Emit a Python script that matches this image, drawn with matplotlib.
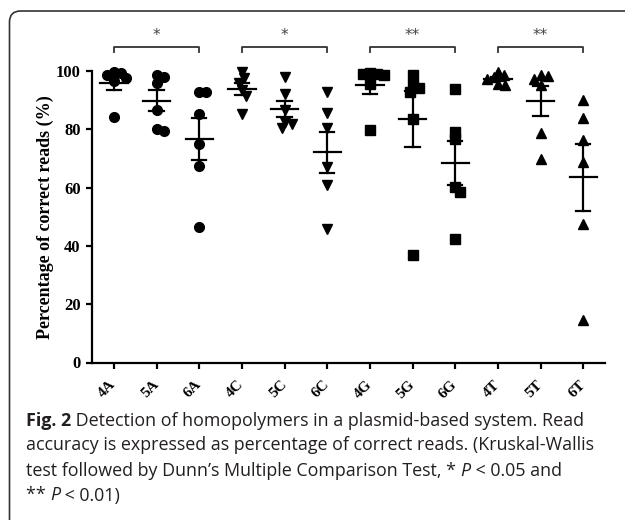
import matplotlib
matplotlib.use("Agg")
import matplotlib.pyplot as plt
import matplotlib.transforms as mtransforms
from matplotlib.patches import FancyBboxPatch
import numpy as np

# data (percentage of correct reads, n = 6 per group)
groups = ["4A", "5A", "6A", "4C", "5C", "6C", "4G", "5G", "6G", "4T", "5T", "6T"]
vals_4A = [99.5, 99.2, 98.6, 97.5, 96.5, 84.1]
vals_5A = [98.6, 98.0, 96.0, 86.6, 80.0, 79.4]
vals_6A = [92.9, 92.7, 85.2, 74.9, 67.4, 46.6]
vals_4C = [99.8, 97.5, 95.8, 93.5, 91.5, 85.1]
vals_5C = [97.8, 92.0, 86.6, 82.6, 81.8, 80.3]
vals_6C = [92.9, 85.5, 80.3, 67.2, 60.9, 45.7]
vals_4G = [99.3, 99.1, 98.8, 98.5, 95.5, 79.7]
vals_5G = [98.6, 95.2, 94.3, 92.9, 83.4, 36.9]
vals_6G = [93.8, 79.2, 76.6, 60.3, 58.6, 42.3]
vals_4T = [99.8, 98.6, 97.8, 97.3, 95.5, 95.2]
vals_5T = [98.6, 98.4, 97.4, 95.2, 78.8, 69.8]
vals_6T = [90.0, 83.8, 76.3, 68.7, 47.5, 14.6]
all_vals = [vals_4A, vals_5A, vals_6A, vals_4C, vals_5C, vals_6C,
            vals_4G, vals_5G, vals_6G, vals_4T, vals_5T, vals_6T]
markers = {"A": "o", "C": "v", "G": "s", "T": "^"}
brackets = [(0, 2, "*"), (3, 5, "*"), (6, 8, "**"), (9, 11, "**")]
yticks = [0, 20, 40, 60, 80, 100]


def swarm(values, xunit, yunit, d=7.0):
    # simple beeswarm: push colliding points sideways (pixel units)
    placed, offs = [], []
    cand = [0.0]
    for k in range(1, 100):
        cand += [k * 0.5, -k * 0.5]
    for v in values:
        y = v * yunit
        for c in cand:
            if all((c - px) ** 2 + (y - py) ** 2 >= d * d for px, py in placed):
                break
        placed.append((c, y))
        offs.append(c / xunit)
    return offs


fig = plt.figure(figsize=(6.25, 5.2), dpi=100)
ax = fig.add_axes([91.7 / 625, 1 - 362.5 / 520, (605 - 91.7) / 625, (362.5 - 71) / 520])
ax.set_xlim(-0.52, 11.51)
ax.set_ylim(0, 100)

x0, y0 = ax.transData.transform((0, 0))
x1, y1 = ax.transData.transform((1, 1))
xunit, yunit = x1 - x0, y1 - y0

for i, (g, v) in enumerate(zip(groups, all_vals)):
    v = np.array(v)
    offs = swarm(v, xunit, yunit)
    ax.plot(i + np.array(offs), v, ls="none", marker=markers[g[1]],
            ms=7 if g[1] != "s" else 6.2, color="black", clip_on=False, zorder=3)
    m = v.mean()
    sem = v.std(ddof=1) / np.sqrt(len(v))
    ax.plot([i - 0.32, i + 0.32], [m, m], color="black", lw=1.6, zorder=4, clip_on=False)
    ax.plot([i, i], [m - sem, m + sem], color="black", lw=1.6, zorder=4, clip_on=False)
    for e in (m - sem, m + sem):
        ax.plot([i - 0.17, i + 0.17], [e, e], color="black", lw=1.6, zorder=4, clip_on=False)

for a, b, s in brackets:
    ax.plot([a, a, b, b], [106.5, 108.2, 108.2, 106.5], color="#333333", lw=1.3,
            clip_on=False)
    ax.text((a + b) / 2, 112.3, s, ha="center", va="center", fontsize=11,
            color="#444444", family="DejaVu Sans")

for side in ("top", "right"):
    ax.spines[side].set_visible(False)
for side in ("left", "bottom"):
    ax.spines[side].set_linewidth(1.6)
ax.tick_params(width=1.6, length=4.5, direction="out")
ax.set_yticks(yticks)
ax.set_yticklabels([str(t) for t in yticks], fontsize=12, fontweight="bold",
                   family="Liberation Serif")
ax.set_xticks(range(len(groups)))
ax.set_xticklabels(groups, fontsize=11, fontweight="bold", family="Liberation Serif",
                   rotation=45, ha="right", va="center", rotation_mode="anchor")
ax.tick_params(axis="x", pad=10)
ax.set_ylabel("Percentage of correct reads (%)", fontsize=13, fontweight="bold",
              family="Liberation Serif", labelpad=1.5)

# panel frame
fig.add_artist(FancyBboxPatch((9.5, -30), 660, 520 - 11 + 30,
                              boxstyle="round,pad=0,rounding_size=11",
                              transform=mtransforms.IdentityTransform(),
                              fill=False, ec="#333333", lw=1.2))

# caption
cap_col = "#231f20"
cap_fs = 12.9
lines = [
    [("Fig. 2", "bold", "normal"), (" Detection of homopolymers in a plasmid-based system. Read", "normal", "normal")],
    [("accuracy is expressed as percentage of correct reads. (Kruskal-Wallis", "normal", "normal")],
    [("test followed by Dunn\u2019s Multiple Comparison Test, * ", "normal", "normal"),
     ("P", "normal", "italic"), (" < 0.05 and", "normal", "normal")],
    [("** ", "normal", "normal"), ("P", "normal", "italic"), (" < 0.01)", "normal", "normal")],
]
renderer = fig.canvas.get_renderer()
base = [425.5, 450.5, 475.5, 500.5]
for segs, yb in zip(lines, base):
    x = 26.0
    for s, w, st in segs:
        t = fig.text(x / 625, 1 - yb / 520, s, fontsize=cap_fs, fontweight=w, style=st,
                     family="Open Sans", color=cap_col, va="baseline", ha="left")
        bb = t.get_window_extent(renderer)
        x = bb.x1

fig.savefig("out.png", dpi=100)
